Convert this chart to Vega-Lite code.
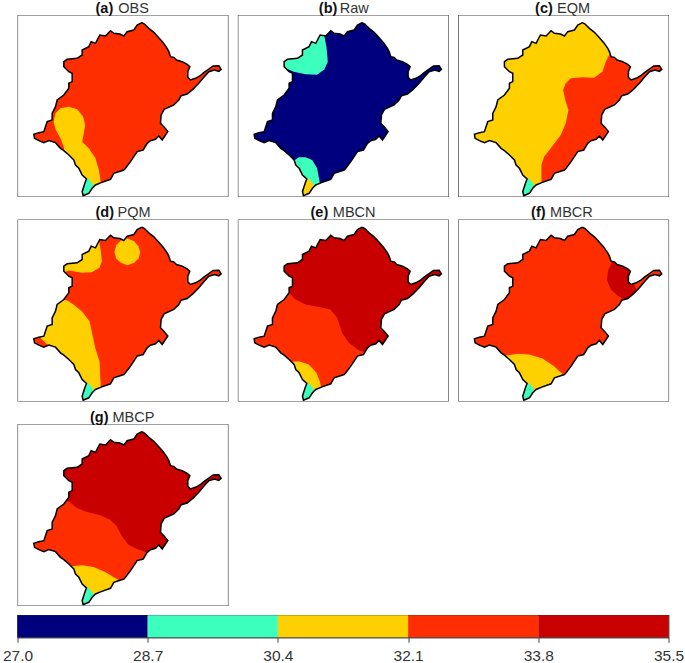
{"$schema":"https://vega.github.io/schema/vega-lite/v6.json","background":"white","padding":{"left":1.5,"top":0,"right":0,"bottom":0},"config":{"concat":{"spacing":9.3},"font":"Liberation Sans"},
"datasets":{
"labels":[{"panel":"OBS","tag":"(a)","name":"OBS"},{"panel":"Raw","tag":"(b)","name":"Raw"},{"panel":"EQM","tag":"(c)","name":"EQM"},{"panel":"PQM","tag":"(d)","name":"PQM"},{"panel":"MBCN","tag":"(e)","name":"MBCN"},{"panel":"MBCR","tag":"(f)","name":"MBCR"},{"panel":"MBCP","tag":"(g)","name":"MBCP"}],
"bands":[{"low":27,"high":28.7},{"low":28.7,"high":30.4},{"low":30.4,"high":32.1},{"low":32.1,"high":33.8},{"low":33.8,"high":35.5}],
"frame":[{"type":"Feature","properties":{"name":"frame"},"geometry":{"type":"LineString","coordinates":[[12,45],[645,45],[645,591],[12,591],[12,45]]}}],
"outline":[{"type":"Feature","properties":{"name":"basin"},"geometry":{"type":"LineString","coordinates":[[385,68],[393,72],[406,85],[421,97],[436,113],[449,128],[461,145],[466,155],[471,170],[481,172],[489,180],[506,185],[521,193],[529,200],[523,215],[523,232],[531,240],[546,235],[559,228],[571,218],[586,207],[599,198],[616,197],[623,208],[616,214],[603,210],[586,215],[571,232],[556,250],[538,268],[521,282],[503,287],[496,300],[481,315],[452,328],[443,345],[441,370],[451,380],[463,395],[456,405],[446,420],[436,408],[426,418],[411,422],[401,430],[389,450],[371,455],[361,470],[351,485],[336,505],[331,510],[301,520],[291,538],[263,548],[246,555],[236,565],[226,580],[209,587],[206,575],[214,550],[219,537],[206,525],[201,515],[196,505],[186,495],[181,480],[166,465],[151,452],[141,445],[126,428],[106,422],[91,428],[76,422],[63,415],[61,403],[76,398],[91,395],[101,365],[116,360],[116,340],[126,320],[131,300],[151,285],[166,265],[166,250],[176,245],[176,220],[166,215],[151,200],[151,185],[161,178],[191,175],[206,165],[206,150],[226,140],[233,125],[246,130],[251,120],[259,105],[276,108],[291,92],[301,100],[319,102],[331,108],[341,95],[361,90],[371,75],[385,68]]}}],
"mask":[{"type":"Feature","properties":{"name":"outside"},"geometry":{"type":"Polygon","coordinates":[[[11,44],[11,592],[646,592],[646,44],[11,44]],[[385,68],[393,72],[406,85],[421,97],[436,113],[449,128],[461,145],[466,155],[471,170],[481,172],[489,180],[506,185],[521,193],[529,200],[523,215],[523,232],[531,240],[546,235],[559,228],[571,218],[586,207],[599,198],[616,197],[623,208],[616,214],[603,210],[586,215],[571,232],[556,250],[538,268],[521,282],[503,287],[496,300],[481,315],[452,328],[443,345],[441,370],[451,380],[463,395],[456,405],[446,420],[436,408],[426,418],[411,422],[401,430],[389,450],[371,455],[361,470],[351,485],[336,505],[331,510],[301,520],[291,538],[263,548],[246,555],[236,565],[226,580],[209,587],[206,575],[214,550],[219,537],[206,525],[201,515],[196,505],[186,495],[181,480],[166,465],[151,452],[141,445],[126,428],[106,422],[91,428],[76,422],[63,415],[61,403],[76,398],[91,395],[101,365],[116,360],[116,340],[126,320],[131,300],[151,285],[166,265],[166,250],[176,245],[176,220],[166,215],[151,200],[151,185],[161,178],[191,175],[206,165],[206,150],[226,140],[233,125],[246,130],[251,120],[259,105],[276,108],[291,92],[301,100],[319,102],[331,108],[341,95],[361,90],[371,75],[385,68]]]}}],
"regions":[
{"type":"Feature","properties":{"panel":"OBS","low":32.1},"geometry":{"type":"Polygon","coordinates":[[[20,50],[640,50],[640,588],[20,588],[20,50]]]}},
{"type":"Feature","properties":{"panel":"OBS","low":30.4},"geometry":{"type":"Polygon","coordinates":[[[120,365],[126,340],[141,325],[166,320],[191,328],[209,350],[215,375],[210,405],[206,425],[226,445],[246,475],[256,510],[262,548],[262,589],[170,589],[150,470],[152,452],[151,440],[141,415],[127,390],[120,365]]]}},
{"type":"Feature","properties":{"panel":"OBS","low":28.7},"geometry":{"type":"Polygon","coordinates":[[[214,538],[227,537],[240,556],[240,589],[195,589],[195,560],[214,538]]]}},
{"type":"Feature","properties":{"panel":"Raw","low":27},"geometry":{"type":"Polygon","coordinates":[[[20,50],[640,50],[640,588],[20,588],[20,50]]]}},
{"type":"Feature","properties":{"panel":"Raw","low":28.7},"geometry":{"type":"Polygon","coordinates":[[[270,100],[278,140],[282,185],[272,208],[250,224],[215,223],[180,215],[155,205],[140,190],[140,100],[270,100]]]}},
{"type":"Feature","properties":{"panel":"Raw","low":28.7},"geometry":{"type":"Polygon","coordinates":[[[180,482],[195,472],[215,472],[235,480],[250,505],[258,548],[262,589],[150,589],[150,482],[180,482]]]}},
{"type":"Feature","properties":{"panel":"Raw","low":30.4},"geometry":{"type":"Polygon","coordinates":[[[214,538],[227,537],[240,556],[240,589],[195,589],[195,560],[214,538]]]}},
{"type":"Feature","properties":{"panel":"EQM","low":30.4},"geometry":{"type":"Polygon","coordinates":[[[20,50],[640,50],[640,588],[20,588],[20,50]]]}},
{"type":"Feature","properties":{"panel":"EQM","low":32.1},"geometry":{"type":"Polygon","coordinates":[[[468,160],[455,185],[445,215],[420,233],[385,232],[350,235],[335,250],[327,270],[335,305],[343,330],[335,370],[320,405],[290,445],[270,470],[262,495],[262,548],[300,589],[640,589],[640,150],[468,160]]]}},
{"type":"Feature","properties":{"panel":"EQM","low":28.7},"geometry":{"type":"Polygon","coordinates":[[[214,538],[227,537],[240,556],[240,589],[195,589],[195,560],[214,538]]]}},
{"type":"Feature","properties":{"panel":"PQM","low":32.1},"geometry":{"type":"Polygon","coordinates":[[[20,50],[640,50],[640,588],[20,588],[20,50]]]}},
{"type":"Feature","properties":{"panel":"PQM","low":30.4},"geometry":{"type":"Polygon","coordinates":[[[255,100],[262,140],[265,170],[258,190],[235,203],[205,205],[180,200],[165,198],[150,205],[130,180],[130,100],[255,100]]]}},
{"type":"Feature","properties":{"panel":"PQM","low":30.4},"geometry":{"type":"Polygon","coordinates":[[[380,143],[375,162],[362,175],[342,182],[322,175],[308,162],[303,143],[308,122],[322,108],[342,102],[362,110],[375,125],[380,143]]]}},
{"type":"Feature","properties":{"panel":"PQM","low":30.4},"geometry":{"type":"Polygon","coordinates":[[[160,287],[180,300],[205,320],[228,350],[237,390],[245,430],[258,470],[262,548],[262,589],[170,589],[110,430],[103,421],[78,398],[78,340],[120,285],[160,287]]]}},
{"type":"Feature","properties":{"panel":"PQM","low":28.7},"geometry":{"type":"Polygon","coordinates":[[[214,538],[227,537],[240,556],[240,589],[195,589],[195,560],[214,538]]]}},
{"type":"Feature","properties":{"panel":"MBCN","low":33.8},"geometry":{"type":"Polygon","coordinates":[[[20,50],[640,50],[640,588],[20,588],[20,50]]]}},
{"type":"Feature","properties":{"panel":"MBCN","low":32.1},"geometry":{"type":"Polygon","coordinates":[[[165,265],[185,285],[215,300],[260,308],[290,315],[310,340],[325,385],[345,415],[375,437],[400,445],[400,589],[100,589],[40,400],[100,270],[165,265]]]}},
{"type":"Feature","properties":{"panel":"MBCN","low":30.4},"geometry":{"type":"Polygon","coordinates":[[[175,472],[195,470],[225,480],[248,505],[258,530],[262,548],[262,589],[150,589],[150,472],[175,472]]]}},
{"type":"Feature","properties":{"panel":"MBCN","low":28.7},"geometry":{"type":"Polygon","coordinates":[[[214,538],[227,537],[240,556],[240,589],[195,589],[195,560],[214,538]]]}},
{"type":"Feature","properties":{"panel":"MBCR","low":32.1},"geometry":{"type":"Polygon","coordinates":[[[20,50],[640,50],[640,588],[20,588],[20,50]]]}},
{"type":"Feature","properties":{"panel":"MBCR","low":33.8},"geometry":{"type":"Polygon","coordinates":[[[478,165],[463,195],[458,225],[470,255],[490,273],[510,285],[530,285],[548,258],[538,235],[530,200],[500,165],[478,165]]]}},
{"type":"Feature","properties":{"panel":"MBCR","low":30.4},"geometry":{"type":"Polygon","coordinates":[[[163,452],[190,448],[225,450],[265,462],[300,485],[327,510],[330,589],[150,589],[140,452],[163,452]]]}},
{"type":"Feature","properties":{"panel":"MBCR","low":28.7},"geometry":{"type":"Polygon","coordinates":[[[214,538],[227,537],[240,556],[240,589],[195,589],[195,560],[214,538]]]}},
{"type":"Feature","properties":{"panel":"MBCP","low":33.8},"geometry":{"type":"Polygon","coordinates":[[[20,50],[640,50],[640,588],[20,588],[20,50]]]}},
{"type":"Feature","properties":{"panel":"MBCP","low":32.1},"geometry":{"type":"Polygon","coordinates":[[[165,277],[190,297],[220,309],[260,319],[290,332],[310,352],[325,382],[345,407],[375,422],[398,430],[410,440],[400,589],[100,589],[40,400],[100,275],[165,277]]]}},
{"type":"Feature","properties":{"panel":"MBCP","low":30.4},"geometry":{"type":"Polygon","coordinates":[[[175,472],[205,469],[240,474],[275,489],[316,514],[320,589],[150,589],[150,472],[175,472]]]}},
{"type":"Feature","properties":{"panel":"MBCP","low":28.7},"geometry":{"type":"Polygon","coordinates":[[[214,538],[227,537],[240,556],[240,589],[195,589],[195,560],[214,538]]]}}
]},
"spacing":8.3,
"vconcat":[{"spacing":7.5,"vconcat":[
{"spacing":9.3,"hconcat":[
{"width":211,"height":182,"projection":{"type":"identity","scale":0.3333,"translate":[-4,-15]},"layer":[
{"data":{"name":"regions"},"transform":[{"filter":"datum.properties.panel==='OBS'"}],"mark":{"type":"geoshape","opacity":1},"encoding":{"color":{"field":"properties.low","type":"ordinal","legend":null,"scale":{"domain":[27,28.7,30.4,32.1,33.8],"range":["#00007F","#3DFFBD","#FFD000","#FF2E00","#C80000"]}}}},
{"data":{"name":"mask"},"mark":{"type":"geoshape","fill":"white","stroke":null},"encoding":{}},
{"data":{"name":"outline"},"mark":{"type":"geoshape","filled":false,"fill":null,"stroke":"black","strokeWidth":1.5},"encoding":{}},
{"data":{"name":"frame"},"mark":{"type":"geoshape","filled":false,"fill":null,"stroke":"#444","strokeWidth":1.2},"encoding":{}},
{"data":{"name":"labels"},"transform":[{"filter":"datum.panel==='OBS'"}],"mark":{"type":"text","x":78,"y":-2.5,"align":"left","baseline":"alphabetic","fontWeight":"bold","fontSize":14.5,"color":"#111"},"encoding":{"text":{"field":"tag"}}},
{"data":{"name":"labels"},"transform":[{"filter":"datum.panel==='OBS'"}],"mark":{"type":"text","x":100.7,"y":-2.5,"align":"left","baseline":"alphabetic","fontSize":14.5,"color":"#333"},"encoding":{"text":{"field":"name"}}}
]},
{"width":211,"height":182,"projection":{"type":"identity","scale":0.3333,"translate":[-4,-15]},"layer":[
{"data":{"name":"regions"},"transform":[{"filter":"datum.properties.panel==='Raw'"}],"mark":{"type":"geoshape","opacity":1},"encoding":{"color":{"field":"properties.low","type":"ordinal","legend":null,"scale":{"domain":[27,28.7,30.4,32.1,33.8],"range":["#00007F","#3DFFBD","#FFD000","#FF2E00","#C80000"]}}}},
{"data":{"name":"mask"},"mark":{"type":"geoshape","fill":"white","stroke":null},"encoding":{}},
{"data":{"name":"outline"},"mark":{"type":"geoshape","filled":false,"fill":null,"stroke":"black","strokeWidth":1.5},"encoding":{}},
{"data":{"name":"frame"},"mark":{"type":"geoshape","filled":false,"fill":null,"stroke":"#444","strokeWidth":1.2},"encoding":{}},
{"data":{"name":"labels"},"transform":[{"filter":"datum.panel==='Raw'"}],"mark":{"type":"text","x":81,"y":-2.5,"align":"left","baseline":"alphabetic","fontWeight":"bold","fontSize":14.5,"color":"#111"},"encoding":{"text":{"field":"tag"}}},
{"data":{"name":"labels"},"transform":[{"filter":"datum.panel==='Raw'"}],"mark":{"type":"text","x":102,"y":-2.5,"align":"left","baseline":"alphabetic","fontSize":14.5,"color":"#333"},"encoding":{"text":{"field":"name"}}}
]},
{"width":211,"height":182,"projection":{"type":"identity","scale":0.3333,"translate":[-4,-15]},"layer":[
{"data":{"name":"regions"},"transform":[{"filter":"datum.properties.panel==='EQM'"}],"mark":{"type":"geoshape","opacity":1},"encoding":{"color":{"field":"properties.low","type":"ordinal","legend":null,"scale":{"domain":[27,28.7,30.4,32.1,33.8],"range":["#00007F","#3DFFBD","#FFD000","#FF2E00","#C80000"]}}}},
{"data":{"name":"mask"},"mark":{"type":"geoshape","fill":"white","stroke":null},"encoding":{}},
{"data":{"name":"outline"},"mark":{"type":"geoshape","filled":false,"fill":null,"stroke":"black","strokeWidth":1.5},"encoding":{}},
{"data":{"name":"frame"},"mark":{"type":"geoshape","filled":false,"fill":null,"stroke":"#444","strokeWidth":1.2},"encoding":{}},
{"data":{"name":"labels"},"transform":[{"filter":"datum.panel==='EQM'"}],"mark":{"type":"text","x":77,"y":-2.5,"align":"left","baseline":"alphabetic","fontWeight":"bold","fontSize":14.5,"color":"#111"},"encoding":{"text":{"field":"tag"}}},
{"data":{"name":"labels"},"transform":[{"filter":"datum.panel==='EQM'"}],"mark":{"type":"text","x":99,"y":-2.5,"align":"left","baseline":"alphabetic","fontSize":14.5,"color":"#333"},"encoding":{"text":{"field":"name"}}}
]}
]},
{"spacing":9.3,"hconcat":[
{"width":211,"height":182,"projection":{"type":"identity","scale":0.3333,"translate":[-4,-15]},"layer":[
{"data":{"name":"regions"},"transform":[{"filter":"datum.properties.panel==='PQM'"}],"mark":{"type":"geoshape","opacity":1},"encoding":{"color":{"field":"properties.low","type":"ordinal","legend":null,"scale":{"domain":[27,28.7,30.4,32.1,33.8],"range":["#00007F","#3DFFBD","#FFD000","#FF2E00","#C80000"]}}}},
{"data":{"name":"mask"},"mark":{"type":"geoshape","fill":"white","stroke":null},"encoding":{}},
{"data":{"name":"outline"},"mark":{"type":"geoshape","filled":false,"fill":null,"stroke":"black","strokeWidth":1.5},"encoding":{}},
{"data":{"name":"frame"},"mark":{"type":"geoshape","filled":false,"fill":null,"stroke":"#444","strokeWidth":1.2},"encoding":{}},
{"data":{"name":"labels"},"transform":[{"filter":"datum.panel==='PQM'"}],"mark":{"type":"text","x":78,"y":-2.5,"align":"left","baseline":"alphabetic","fontWeight":"bold","fontSize":14.5,"color":"#111"},"encoding":{"text":{"field":"tag"}}},
{"data":{"name":"labels"},"transform":[{"filter":"datum.panel==='PQM'"}],"mark":{"type":"text","x":100,"y":-2.5,"align":"left","baseline":"alphabetic","fontSize":14.5,"color":"#333"},"encoding":{"text":{"field":"name"}}}
]},
{"width":211,"height":182,"projection":{"type":"identity","scale":0.3333,"translate":[-4,-15]},"layer":[
{"data":{"name":"regions"},"transform":[{"filter":"datum.properties.panel==='MBCN'"}],"mark":{"type":"geoshape","opacity":1},"encoding":{"color":{"field":"properties.low","type":"ordinal","legend":null,"scale":{"domain":[27,28.7,30.4,32.1,33.8],"range":["#00007F","#3DFFBD","#FFD000","#FF2E00","#C80000"]}}}},
{"data":{"name":"mask"},"mark":{"type":"geoshape","fill":"white","stroke":null},"encoding":{}},
{"data":{"name":"outline"},"mark":{"type":"geoshape","filled":false,"fill":null,"stroke":"black","strokeWidth":1.5},"encoding":{}},
{"data":{"name":"frame"},"mark":{"type":"geoshape","filled":false,"fill":null,"stroke":"#444","strokeWidth":1.2},"encoding":{}},
{"data":{"name":"labels"},"transform":[{"filter":"datum.panel==='MBCN'"}],"mark":{"type":"text","x":72.7,"y":-2.5,"align":"left","baseline":"alphabetic","fontWeight":"bold","fontSize":14.5,"color":"#111"},"encoding":{"text":{"field":"tag"}}},
{"data":{"name":"labels"},"transform":[{"filter":"datum.panel==='MBCN'"}],"mark":{"type":"text","x":95,"y":-2.5,"align":"left","baseline":"alphabetic","fontSize":14.5,"color":"#333"},"encoding":{"text":{"field":"name"}}}
]},
{"width":211,"height":182,"projection":{"type":"identity","scale":0.3333,"translate":[-4,-15]},"layer":[
{"data":{"name":"regions"},"transform":[{"filter":"datum.properties.panel==='MBCR'"}],"mark":{"type":"geoshape","opacity":1},"encoding":{"color":{"field":"properties.low","type":"ordinal","legend":null,"scale":{"domain":[27,28.7,30.4,32.1,33.8],"range":["#00007F","#3DFFBD","#FFD000","#FF2E00","#C80000"]}}}},
{"data":{"name":"mask"},"mark":{"type":"geoshape","fill":"white","stroke":null},"encoding":{}},
{"data":{"name":"outline"},"mark":{"type":"geoshape","filled":false,"fill":null,"stroke":"black","strokeWidth":1.5},"encoding":{}},
{"data":{"name":"frame"},"mark":{"type":"geoshape","filled":false,"fill":null,"stroke":"#444","strokeWidth":1.2},"encoding":{}},
{"data":{"name":"labels"},"transform":[{"filter":"datum.panel==='MBCR'"}],"mark":{"type":"text","x":73,"y":-2.5,"align":"left","baseline":"alphabetic","fontWeight":"bold","fontSize":14.5,"color":"#111"},"encoding":{"text":{"field":"tag"}}},
{"data":{"name":"labels"},"transform":[{"filter":"datum.panel==='MBCR'"}],"mark":{"type":"text","x":92,"y":-2.5,"align":"left","baseline":"alphabetic","fontSize":14.5,"color":"#333"},"encoding":{"text":{"field":"name"}}}
]}
]},
{"width":211,"height":182,"projection":{"type":"identity","scale":0.3333,"translate":[-4,-15]},"layer":[
{"data":{"name":"regions"},"transform":[{"filter":"datum.properties.panel==='MBCP'"}],"mark":{"type":"geoshape","opacity":1},"encoding":{"color":{"field":"properties.low","type":"ordinal","legend":null,"scale":{"domain":[27,28.7,30.4,32.1,33.8],"range":["#00007F","#3DFFBD","#FFD000","#FF2E00","#C80000"]}}}},
{"data":{"name":"mask"},"mark":{"type":"geoshape","fill":"white","stroke":null},"encoding":{}},
{"data":{"name":"outline"},"mark":{"type":"geoshape","filled":false,"fill":null,"stroke":"black","strokeWidth":1.5},"encoding":{}},
{"data":{"name":"frame"},"mark":{"type":"geoshape","filled":false,"fill":null,"stroke":"#444","strokeWidth":1.2},"encoding":{}},
{"data":{"name":"labels"},"transform":[{"filter":"datum.panel==='MBCP'"}],"mark":{"type":"text","x":72.5,"y":-2.5,"align":"left","baseline":"alphabetic","fontWeight":"bold","fontSize":14.5,"color":"#111"},"encoding":{"text":{"field":"tag"}}},
{"data":{"name":"labels"},"transform":[{"filter":"datum.panel==='MBCP'"}],"mark":{"type":"text","x":95,"y":-2.5,"align":"left","baseline":"alphabetic","fontSize":14.5,"color":"#333"},"encoding":{"text":{"field":"name"}}}
]}
]},
{"width":651,"height":22,"view":{"stroke":"#333","strokeWidth":1.2},"data":{"name":"bands"},"mark":{"type":"rect"},"encoding":{"x":{"field":"low","type":"quantitative","scale":{"domain":[27,35.5],"nice":false,"zero":false},"axis":{"title":null,"values":[27,28.7,30.4,32.1,33.8,35.5],"format":".1f","grid":false,"tickSize":5,"tickColor":"#444","domainColor":"#555","labelFontSize":15.5,"labelColor":"#333","labelPadding":6,"labelFlush":false,"labelBound":false,"labelOverlap":false,"labelFont":"Liberation Sans"}},"x2":{"field":"high"},"color":{"field":"low","type":"ordinal","legend":null,"scale":{"domain":[27,28.7,30.4,32.1,33.8],"range":["#00007F","#3DFFBD","#FFD000","#FF2E00","#C80000"]}}}}
]}
